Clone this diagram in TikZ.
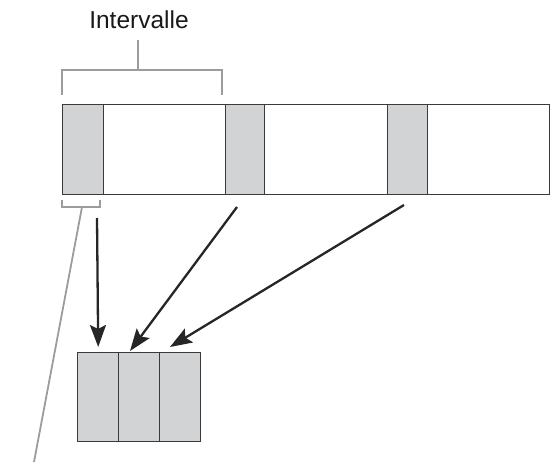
\documentclass[tikz,border=0pt]{standalone}
\usepackage{fontspec}
\setmainfont{Liberation Sans}
\usetikzlibrary{arrows.meta}
\definecolor{edge}{HTML}{3A3A3A}
\definecolor{slotgray}{HTML}{D1D3D5}
\definecolor{brk}{HTML}{9C9C9C}
\begin{document}
\begin{tikzpicture}[x=1pt,y=-1pt,
  strip/.style={draw=edge, fill=white, line width=1.4pt, minimum width=487pt, minimum height=90pt, inner sep=0pt, anchor=north west},
  slot/.style={draw=edge, fill=slotgray, line width=1.4pt, minimum width=#1, minimum height=90pt, inner sep=0pt, anchor=north west},
  cell/.style={draw=edge, fill=slotgray, line width=1.4pt, minimum width=41pt, minimum height=89pt, inner sep=0pt, anchor=north west},
  arr/.style={draw=black!85, line width=2.3pt, -{Stealth[length=22pt,width=16pt,inset=4pt]}},
  bracketline/.style={draw=brk, line width=2pt},
  lbl/.style={font=\fontsize{24.5}{29}\selectfont, text=black!90, inner sep=0pt, anchor=base}
]
\useasboundingbox (0,0) rectangle (551,462);
% strip and slots
\node[strip] (strip) at (62,104) {};
\node[slot=41pt] (s1) at (62,104) {};
\node[slot=39pt] (s2) at (225,104) {};
\node[slot=40pt] (s3) at (387,104) {};
% bottom buffer cells
\node[cell] (b1) at (77,352) {};
\node[cell] (b2) at (118,352) {};
\node[cell] (b3) at (159,352) {};
% top bracket and label
\node[lbl] (label) at (139,29) {Intervalle};
\coordinate (tbl) at (62,95);
\coordinate (tbr) at (222,95);
\coordinate (tstem) at (138,40);
\draw[bracketline] (tbl) -- (62,70) -- (222,70) -- (tbr);
\draw[bracketline] (138,70) -- (tstem);
% small bracket under first slot
\coordinate (sbl) at (62,200);
\coordinate (sbr) at (100,200);
\coordinate (send) at (34,462);
\draw[bracketline] (sbl) -- (62,207) -- (100,207) -- (sbr);
\draw[bracketline, line width=1.8pt] (82,207) -- (send);
% arrows
\coordinate (a1) at (97,218);
\coordinate (a2) at (237,207);
\coordinate (a3) at (404,205);
\draw[arr] (a1) -- ([yshift=5pt]b1.north);
\draw[arr] (a2) -- ([xshift=12pt,yshift=1pt]b2.north west);
\draw[arr] (a3) -- ([xshift=11pt,yshift=5pt]b3.north west);
\end{tikzpicture}
\end{document}
